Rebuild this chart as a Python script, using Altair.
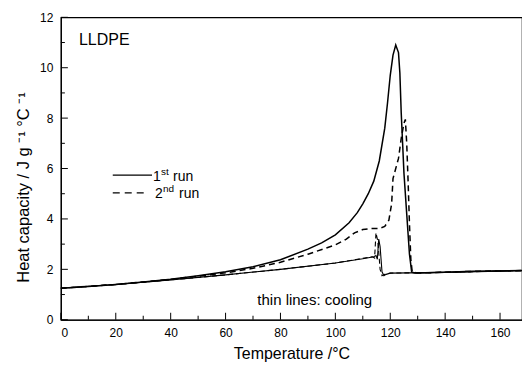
import altair as alt
import pandas as pd

# ---- data ----
heat1_T = [0, 10, 20, 30, 40, 50, 60, 70, 80, 90, 95, 100, 105, 108, 110, 112, 114, 116, 118, 119, 120, 121, 122, 123, 123.5, 124, 124.5, 125, 126, 127, 127.8, 129, 140, 150, 168]
heat1_C = [1.25, 1.32, 1.40, 1.50, 1.61, 1.75, 1.90, 2.10, 2.38, 2.80, 3.05, 3.37, 3.85, 4.25, 4.6, 5.0, 5.5, 6.3, 7.6, 8.6, 9.7, 10.5, 10.9, 10.6, 9.8, 8.2, 7.0, 5.8, 4.2, 2.6, 1.9, 1.85, 1.88, 1.92, 1.95]

heat2_T = [0, 20, 40, 60, 70, 80, 90, 100, 104, 107, 110, 113, 116, 118, 119.5, 120.5, 121, 122, 123, 124, 125, 125.5, 126, 126.5, 127, 127.5, 128, 130, 150, 168]
heat2_C = [1.25, 1.40, 1.60, 1.86, 2.04, 2.28, 2.60, 2.97, 3.20, 3.45, 3.58, 3.62, 3.62, 3.70, 3.95, 4.6, 5.6, 6.0, 6.4, 7.2, 7.8, 7.95, 7.0, 5.5, 3.8, 2.4, 1.9, 1.85, 1.92, 1.95]

cool1_T = [0, 20, 40, 60, 80, 100, 110, 114, 114.8, 115.3, 115.8, 116.3, 117, 117.7, 118.5, 120, 140, 168]
cool1_C = [1.25, 1.40, 1.58, 1.78, 2.00, 2.25, 2.42, 2.50, 2.55, 2.40, 3.20, 2.90, 1.90, 1.75, 1.80, 1.85, 1.88, 1.95]

cool2_T = [0, 20, 40, 60, 80, 100, 113.5, 114.3, 114.8, 115.5, 116.3, 117, 118, 120, 140, 168]
cool2_C = [1.25, 1.40, 1.58, 1.78, 2.00, 2.25, 2.50, 2.45, 3.45, 3.10, 2.00, 1.75, 1.80, 1.85, 1.88, 1.95]

x_major = [0, 20, 40, 60, 80, 100, 120, 140, 160]
x_minor = [10, 30, 50, 70, 90, 110, 130, 150]
y_major = [0, 2, 4, 6, 8, 10, 12]
y_minor = [1, 3, 5, 7, 9, 11]

FONT = "Liberation Sans"
W, H = 462, 303
xscale = alt.Scale(domain=[0, 168], nice=False, zero=False)
yscale = alt.Scale(domain=[0, 12], nice=False)

def series(T, C):
    return pd.DataFrame({"T": T, "C": C})

xenc = alt.X("T:Q", scale=xscale,
             axis=alt.Axis(values=x_major, title="Temperature /°C", ticks=False,
                           labelPadding=8, titlePadding=7, grid=False))
yenc = alt.Y("C:Q", scale=yscale,
             axis=alt.Axis(values=y_major, title="Heat capacity / J g ⁻¹ °C ⁻¹", ticks=False,
                           labelPadding=8, titlePadding=8, grid=False, titleY=170,
                           titleFontSize=16.5))

heat1 = alt.Chart(series(heat1_T, heat1_C)).mark_line(color="black", strokeWidth=1.5).encode(x=xenc, y=yenc)
heat2 = alt.Chart(series(heat2_T, heat2_C)).mark_line(color="black", strokeWidth=1.5, strokeDash=[6, 4]).encode(x="T:Q", y="C:Q")
cool1 = alt.Chart(series(cool1_T, cool1_C)).mark_line(color="black", strokeWidth=1.1).encode(x="T:Q", y="C:Q")
cool2 = alt.Chart(series(cool2_T, cool2_C)).mark_line(color="black", strokeWidth=1.1, strokeDash=[5, 3]).encode(x="T:Q", y="C:Q")

# inward ticks
xmaj = alt.Chart(pd.DataFrame({"T": x_major})).mark_rule(color="black", strokeWidth=1).encode(
    x="T:Q", y=alt.value(H), y2=alt.value(H - 7))
xmin = alt.Chart(pd.DataFrame({"T": x_minor})).mark_rule(color="black", strokeWidth=1).encode(
    x="T:Q", y=alt.value(H), y2=alt.value(H - 4))
ymaj = alt.Chart(pd.DataFrame({"C": y_major})).mark_rule(color="black", strokeWidth=1).encode(
    y="C:Q", x=alt.value(0), x2=alt.value(7))
ymin = alt.Chart(pd.DataFrame({"C": y_minor})).mark_rule(color="black", strokeWidth=1).encode(
    y="C:Q", x=alt.value(0), x2=alt.value(4))

# legend samples
leg_solid = alt.Chart(pd.DataFrame({"T": [18.9], "T2": [33.2], "C": [5.74]})).mark_rule(
    color="black", strokeWidth=1.3).encode(x="T:Q", x2="T2:Q", y="C:Q")
leg_dash = alt.Chart(pd.DataFrame({"T": [18.9], "T2": [31.5], "C": [5.03]})).mark_rule(
    color="black", strokeWidth=1.3, strokeDash=[7, 5]).encode(x="T:Q", x2="T2:Q", y="C:Q")

def txt(df, size, **kw):
    return alt.Chart(df).mark_text(font=FONT, fontSize=size, color="black", align="left",
                                   baseline="middle", **kw).encode(x="T:Q", y="C:Q", text="s:N")

leg_x = 33.6
t1 = txt(pd.DataFrame({"T": [leg_x], "C": [5.68], "s": ["1"]}), 14)
t1s = txt(pd.DataFrame({"T": [leg_x], "C": [5.68], "s": ["st"]}), 10, dx=8, dy=-5)
t1r = txt(pd.DataFrame({"T": [leg_x], "C": [5.68], "s": ["run"]}), 14, dx=20)
t2 = txt(pd.DataFrame({"T": [leg_x + 0.7], "C": [4.97], "s": ["2"]}), 14)
t2s = txt(pd.DataFrame({"T": [leg_x + 0.7], "C": [4.97], "s": ["nd"]}), 10, dx=8, dy=-5)
t2r = txt(pd.DataFrame({"T": [leg_x + 0.7], "C": [4.97], "s": ["run"]}), 14, dx=24)

lldpe = txt(pd.DataFrame({"T": [6.6], "C": [11.1], "s": ["LLDPE"]}), 16)
cooling = alt.Chart(pd.DataFrame({"T": [92.5], "C": [0.8], "s": ["thin lines: cooling"]})).mark_text(
    font=FONT, fontSize=15, color="black", align="center", baseline="middle").encode(
    x="T:Q", y="C:Q", text="s:N")

chart = alt.layer(heat1, heat2, cool1, cool2, xmaj, xmin, ymaj, ymin,
                  leg_solid, leg_dash, t1, t1s, t1r, t2, t2s, t2r, lldpe, cooling).properties(
    width=W, height=H,
    autosize=alt.AutoSizeParams(type="none"),
    padding={"left": 61, "top": 17, "right": 0, "bottom": 45},
    background="white",
).configure_view(stroke="black", strokeWidth=1.2).configure_axis(
    domainColor="black", domainWidth=1.2, labelColor="black", titleColor="black",
    labelFont=FONT, titleFont=FONT, labelFontSize=12, titleFontSize=16,
    titleFontWeight="normal",
)

chart.save("out.html", embed_options={"renderer": "svg", "actions": False})
